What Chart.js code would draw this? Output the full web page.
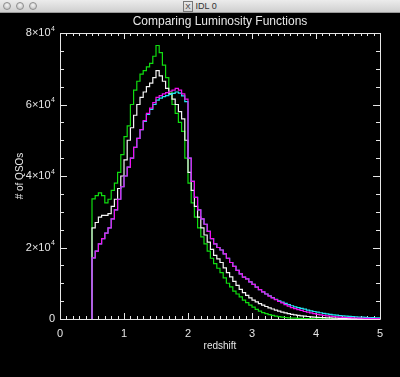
<!DOCTYPE html>
<html>
<head>
<meta charset="utf-8">
<script src="https://cdn.jsdelivr.net/npm/chart.js@4/dist/chart.umd.min.js"></script>
<style>
  html, body { margin: 0; padding: 0; background: #000; width: 400px; height: 377px; overflow: hidden; }
  #titlebar {
    position: absolute; left: 0; top: 0; width: 400px; height: 13px;
    background: linear-gradient(#ececec, #cfcfcf);
    border-bottom: 1px solid #9a9a9a; box-sizing: border-box;
    font: 9px "Liberation Sans", sans-serif; color: #333; text-align: center; line-height: 13px;
  }
  .dot { position: absolute; top: 2px; width: 8px; height: 8px; border-radius: 50%;
    background: radial-gradient(circle at 50% 35%, #f4f4f4, #b8b8b8); border: 1px solid #8e8e8e; box-sizing: border-box; }
  #wrap { position: absolute; left: 0; top: 13px; width: 400px; height: 364px; }
</style>
</head>
<body>
<div id="titlebar">
  <span class="dot" style="left:3px"></span>
  <span class="dot" style="left:16px"></span>
  <span class="dot" style="left:29px"></span>
  <span style="font-size:8px;border:1px solid #777;padding:0 1px;margin-right:3px">X</span>IDL 0
</div>
<div id="wrap"><canvas id="lfChart" width="400" height="364"></canvas></div>
<script>
// bin left edges (redshift), bin width 0.05
const binEdges = [
  0.50, 0.55, 0.60, 0.65, 0.70, 0.75, 0.80, 0.85, 0.90, 0.95,
  1.00, 1.05, 1.10, 1.15, 1.20, 1.25, 1.30, 1.35, 1.40, 1.45,
  1.50, 1.55, 1.60, 1.65, 1.70, 1.75, 1.80, 1.85, 1.90, 1.95,
  2.00, 2.05, 2.10, 2.15, 2.20, 2.25, 2.30, 2.35, 2.40, 2.45,
  2.50, 2.55, 2.60, 2.65, 2.70, 2.75, 2.80, 2.85, 2.90, 2.95,
  3.00, 3.05, 3.10, 3.15, 3.20, 3.25, 3.30, 3.35, 3.40, 3.45,
  3.50, 3.55, 3.60, 3.65, 3.70, 3.75, 3.80, 3.85, 3.90, 3.95,
  4.00, 4.05, 4.10, 4.15, 4.20, 4.25, 4.30, 4.35, 4.40, 4.45,
  4.50, 4.55, 4.60, 4.65, 4.70, 4.75, 4.80, 4.85, 4.90, 4.95
];
const zMax = 5.0;

const greenCounts = [
  33600, 34500, 35300, 34500, 32500, 33500, 36000, 38000, 41000, 46000,
  51000, 54000, 60000, 64000, 66500, 68500, 69500, 70500, 71500, 73500,
  76500, 74500, 71000, 67500, 63500, 60000, 57500, 55000, 52500, 45000,
  38000, 32500, 28500, 25500, 23000, 21000, 19000, 17000, 15500, 14200,
  13000, 11500, 10000, 9000, 7800, 7000, 6200, 5300, 4600, 3900,
  3300, 2700, 2200, 1800, 1500, 1200, 1000, 800, 650, 520,
  420, 340, 270, 220, 180, 150, 120, 100, 80, 65,
  50, 42, 35, 30, 25, 21, 18, 15, 12, 10,
  9, 8, 7, 6, 5, 5, 4, 4, 3, 3
];
const whiteCounts = [
  25500, 27000, 28500, 29000, 29000, 29500, 31500, 33500, 36500, 40000,
  44500, 50000, 53500, 57000, 60000, 62000, 63500, 65000, 66000, 67500,
  69500, 68000, 66500, 64500, 63000, 61500, 60000, 58000, 56000, 50000,
  41000, 36000, 31500, 28500, 25500, 23500, 21500, 19500, 17800, 16800,
  15800, 14300, 13000, 11800, 10500, 9400, 8300, 7400, 6600, 5900,
  5300, 4800, 4300, 3900, 3500, 3100, 2800, 2500, 2200, 1950,
  1700, 1500, 1300, 1150, 1000, 900, 800, 700, 620, 550,
  480, 420, 370, 330, 290, 250, 220, 190, 160, 140,
  120, 100, 90, 80, 70, 60, 50, 45, 40, 35
];
const cyanCounts = [
  17100, 19000, 21000, 22500, 24000, 25500, 28000, 30500, 33500, 37000,
  40000, 42500, 45000, 48000, 50500, 53000, 55300, 57200, 58600, 60000,
  61200, 61800, 62200, 62500, 62800, 63100, 63500, 63200, 62400, 60800,
  45000, 38500, 34000, 30500, 28000, 26500, 24500, 22500, 21000, 20000,
  19300, 18200, 17000, 15800, 14700, 13600, 12600, 11700, 11200, 10400,
  9700, 8900, 8200, 7600, 7000, 6500, 6000, 5500, 5100, 4700,
  4350, 4000, 3700, 3400, 3200, 3000, 2750, 2500, 2300, 2100,
  1900, 1750, 1600, 1450, 1300, 1180, 1070, 970, 880, 800,
  730, 660, 600, 550, 500, 460, 420, 380, 350, 320
];
const magentaCounts = [
  17100, 19000, 21000, 22500, 24000, 25500, 28000, 30500, 33500, 37000,
  40000, 42500, 45000, 48000, 50500, 53000, 55500, 57500, 59000, 60500,
  62000, 62500, 63000, 63300, 63700, 64000, 64500, 64000, 63000, 61500,
  45000, 38500, 34000, 30500, 28000, 26500, 24500, 22500, 21000, 20000,
  19300, 18200, 17000, 15800, 14700, 13600, 12600, 11700, 11200, 10400,
  9700, 8900, 8200, 7600, 7000, 6400, 5900, 5400, 4900, 4500,
  4000, 3600, 3200, 2900, 2600, 2400, 2100, 1900, 1700, 1500,
  1300, 1150, 1000, 900, 800, 700, 620, 550, 480, 420,
  370, 320, 280, 240, 210, 180, 150, 130, 110, 90
];

const xTicks = [0, 1, 2, 3, 4, 5];
const yTicks = [0, 20000, 40000, 60000, 80000];
const yTickLabels = ["0", "2×10|4", "4×10|4", "6×10|4", "8×10|4"];

// histogram outline: start at 0 on the first edge, hold last value up to zMax
function histPoints(counts) {
  const pts = [{ x: binEdges[0], y: 0 }];
  binEdges.forEach((z, i) => pts.push({ x: z, y: counts[i] }));
  pts.push({ x: zMax, y: counts[counts.length - 1] });
  return pts;
}

const axisColor = "#e6e6e6";
const font = '"Liberation Sans", "DejaVu Sans", sans-serif';

// IDL-style box axes with inward ticks, drawn from the chart's own scales
const idlAxes = {
  id: "idlAxes",
  beforeDatasetsDraw(chart) {
    const { ctx, chartArea: a, scales } = chart;
    const xs = scales.x, ys = scales.y;
    ctx.save();
    ctx.strokeStyle = axisColor;
    ctx.lineWidth = 1;
    ctx.beginPath();
    ctx.rect(Math.round(a.left) + 0.5, Math.round(a.top) + 0.5, Math.round(a.right - a.left), Math.round(a.bottom - a.top));
    // x ticks: every 0.1, major every 1
    for (let k = 0; k <= 50; k++) {
      const px = Math.round(xs.getPixelForValue(k / 10)) + 0.5;
      const len = k % 10 === 0 ? 6 : 3;
      ctx.moveTo(px, a.bottom); ctx.lineTo(px, a.bottom - len);
      ctx.moveTo(px, a.top); ctx.lineTo(px, a.top + len);
    }
    // y ticks: every 5000, major every 20000
    for (let k = 0; k <= 16; k++) {
      const py = Math.round(ys.getPixelForValue(k * 5000)) + 0.5;
      const len = k % 4 === 0 ? 7 : 4;
      ctx.moveTo(a.left, py); ctx.lineTo(a.left + len, py);
      ctx.moveTo(a.right, py); ctx.lineTo(a.right - len, py);
    }
    ctx.stroke();

    ctx.fillStyle = axisColor;
    ctx.font = "11px " + font;
    ctx.textAlign = "center";
    ctx.textBaseline = "middle";
    xTicks.forEach((v) => ctx.fillText(String(v), xs.getPixelForValue(v), a.bottom + 15));

    yTicks.forEach((v, i) => {
      const py = ys.getPixelForValue(v);
      const [base, sup] = yTickLabels[i].split("|");
      ctx.textAlign = "right";
      let right = a.left - 5;
      if (sup) {
        ctx.font = "7px " + font;
        ctx.fillText(sup, right, py - 4);
        right -= ctx.measureText(sup).width + 0.5;
      }
      ctx.font = "11px " + font;
      ctx.fillText(base, right, py);
    });

    ctx.textAlign = "center";
    ctx.font = "12px " + font;
    ctx.fillText("Comparing Luminosity Functions", (a.left + a.right) / 2, 9);
    ctx.font = "10px " + font;
    ctx.fillText("redshift", (a.left + a.right) / 2, a.bottom + 27);
    ctx.translate(20, (a.top + a.bottom) / 2);
    ctx.rotate(-Math.PI / 2);
    ctx.fillText("# of QSOs", 0, 0);
    ctx.restore();
  }
};

function series(label, counts, color) {
  return {
    label,
    data: histPoints(counts),
    borderColor: color,
    borderWidth: 1.2,
    stepped: "before",
    pointRadius: 0,
    fill: false,
    tension: 0
  };
}

// Chart.js paints index 0 last (on top), so magenta comes first
new Chart(document.getElementById("lfChart").getContext("2d"), {
  type: "line",
  data: {
    datasets: [
      series("magenta", magentaCounts, "#f010f0"),
      series("cyan", cyanCounts, "#20e8f0"),
      series("white", whiteCounts, "#f4f4f4"),
      series("green", greenCounts, "#10dd10")
    ]
  },
  options: {
    responsive: false,
    animation: false,
    events: [],
    layout: { padding: { left: 60, right: 20, top: 20, bottom: 58 } },
    plugins: { legend: { display: false }, tooltip: { enabled: false } },
    scales: {
      x: { type: "linear", min: 0, max: 5, display: false },
      y: { type: "linear", min: 0, max: 80000, display: false }
    }
  },
  plugins: [idlAxes]
});
</script>
</body>
</html>
